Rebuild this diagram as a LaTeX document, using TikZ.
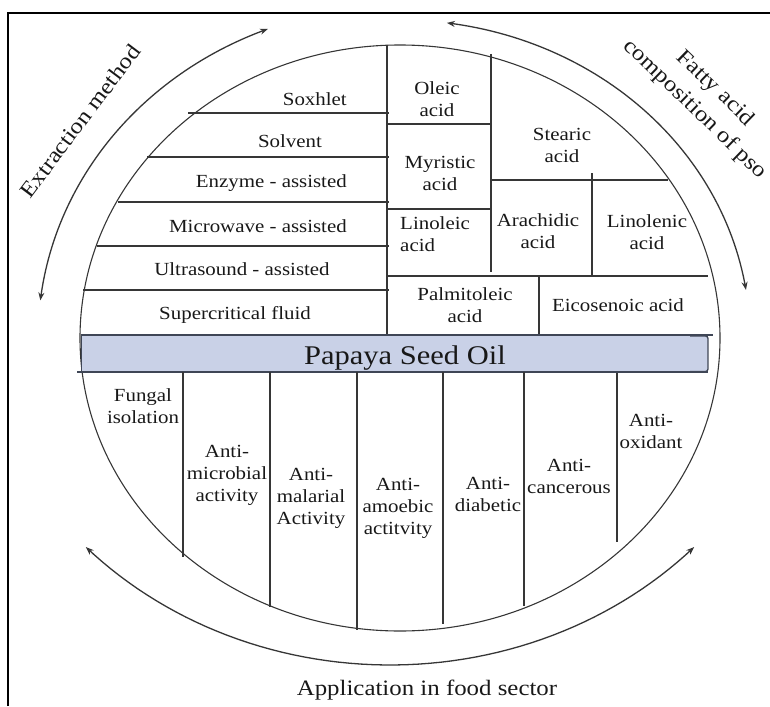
\documentclass[tikz,border=0pt]{standalone}
\usepackage{fontspec}
\setmainfont{Liberation Serif}
\usetikzlibrary{arrows.meta}
\definecolor{ln}{HTML}{363636}
\definecolor{barfill}{HTML}{C9D1E7}
\definecolor{bardark}{HTML}{3F4656}
\definecolor{txt}{HTML}{181818}
\begin{document}
\begin{tikzpicture}[x=1pt,y=-1pt,
  wide/.style={transform shape, xscale=1.13},
  lbl/.style={font=\fontsize{18.5}{22}\selectfont, text=txt, inner sep=0pt, wide},
  ml/.style={lbl, align=center},
  big/.style={font=\fontsize{22}{29}\selectfont, text=txt, inner sep=0pt},
  part/.style={draw=ln, line width=1.3pt},
  rim/.style={draw=ln, line width=1.1pt},
  arr/.style={draw=ln, line width=1.3pt, {Stealth[length=8pt,width=6pt]}-{Stealth[length=8pt,width=6pt]}},
]
\useasboundingbox (0,0) rectangle (770,706);
% frame
\draw[line width=1.2pt] (8,706) -- (8,13) -- (770,13);
% main ellipse
\draw[rim] (400,338) ellipse [x radius=320pt, y radius=293pt];
% surrounding arrows
\draw[arr] plot[domain=186.5:248.6, samples=60, variable=\t] ({400+362*cos(\t)}, {338+332*sin(\t)});
\draw[arr] plot[domain=277.7:351.3, samples=60, variable=\t] ({400+350*cos(\t)}, {338+318*sin(\t)});
\draw[arr] plot[domain=43.6:136.4, samples=60, variable=\t] ({390+420*cos(\t)}, {285+380*sin(\t)});
% arc labels
\node[big, rotate=53, wide] (em) at (80,121) {Extraction method};
\node[big, rotate=-44, wide, align=center] (fa) at (705,99) {Fatty acid\\composition of pso};
\node[big, wide, anchor=base] (app) at (427,695) {Application in food sector};
% extraction methods
\draw[part] (387,45) -- (387,335);
\draw[part] (188,113) -- (389,113);
\draw[part] (147,157) -- (389,157);
\draw[part] (118,202) -- (389,202);
\draw[part] (97,246) -- (389,246);
\draw[part] (83,290) -- (389,290);
\node[lbl, anchor=base east] (sox) at (347,106) {Soxhlet};
\node[lbl, anchor=base] (sol) at (290,147) {Solvent};
\node[lbl, anchor=base east] (enz) at (347,187) {Enzyme - assisted};
\node[lbl, anchor=base east] (mic) at (347,232) {Microwave - assisted};
\node[lbl, anchor=base] (ult) at (242,275) {Ultrasound - assisted};
\node[lbl, anchor=base] (sup) at (235,319) {Supercritical fluid};
% fatty acids
\draw[part] (387,124) -- (492,124);
\draw[part] (387,209) -- (492,209);
\draw[part] (491,54) -- (491,272);
\draw[part] (491,180) -- (668,180);
\draw[part] (592,173) -- (592,276);
\draw[part] (387,276) -- (708,276);
\draw[part] (539,276) -- (539,335);
\node[ml] (ole) at (437,99) {Oleic\\acid};
\node[ml] (ste) at (562,145) {Stearic\\acid};
\node[ml] (myr) at (440,173) {Myristic\\acid};
\node[lbl, align=left, anchor=west] (lin) at (400,234) {Linoleic\\acid};
\node[ml] (ara) at (538,231) {Arachidic\\acid};
\node[ml] (lnl) at (647,232) {Linolenic\\acid};
\node[ml] (pal) at (465,305) {Palmitoleic\\acid};
\node[lbl] (eic) at (618,305) {Eicosenoic acid};
% bar
\fill[barfill] (81,336) rectangle (708,371);
\draw[bardark, line width=0.8pt] (81,336) -- (81,371);
\draw[bardark, line width=1.3pt, rounded corners=2.5pt] (690,336) -- (708,336) -- (708,371.5) -- (690,371.5);
\draw[bardark, line width=2pt] (81,335) -- (713,335);
\draw[bardark, line width=2pt] (77,372) -- (708,372);
\node[font=\fontsize{27}{30}\selectfont, text=txt, inner sep=0pt, anchor=base, wide] (pso) at (405,364) {Papaya Seed Oil};
% applications
\draw[part] (183,372) -- (183,557);
\draw[part] (270,372) -- (270,607);
\draw[part] (357,372) -- (357,630);
\draw[part] (443,372) -- (443,624);
\draw[part] (524,372) -- (524,606);
\draw[part] (617,373) -- (617,542);
\node[ml] (fun) at (143,406) {Fungal\\isolation};
\node[ml] (amb) at (227,475) {Anti-\\microbial\\activity};
\node[ml] (aml) at (311,498) {Anti-\\malarial\\Activity};
\node[ml] (amo) at (398,508) {Anti-\\amoebic\\actitvity};
\node[ml] (adi) at (488,494) {Anti-\\diabetic};
\node[ml] (aca) at (569,476) {Anti-\\cancerous};
\node[ml] (aox) at (651,431) {Anti-\\oxidant};
\end{tikzpicture}
\end{document}
